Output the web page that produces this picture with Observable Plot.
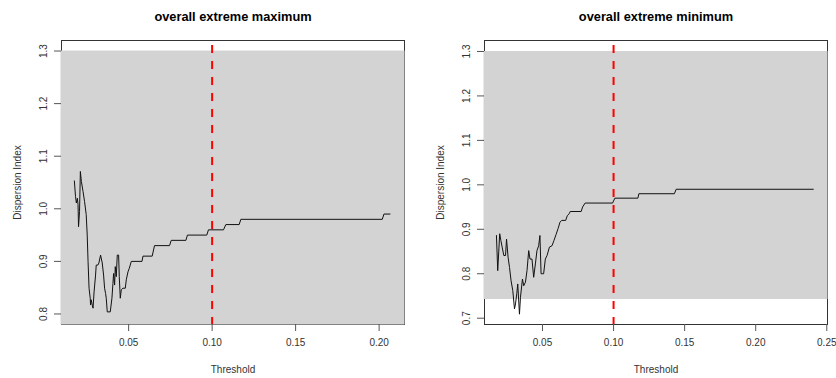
<!DOCTYPE html>
<html>
<head>
<meta charset="utf-8">
<script src="https://cdn.jsdelivr.net/npm/d3@7"></script>
<script src="https://cdn.jsdelivr.net/npm/@observablehq/plot@0.6"></script>
<style>
  html, body { margin: 0; padding: 0; background: white; }
  #wrap { display: flex; width: 836px; height: 378px; }
</style>
</head>
<body>
<div id="wrap"></div>
<script>
// ---- Data: panel 1, overall extreme maximum ----
const maxTitle = "overall extreme maximum";
const maxThreshold = [0.0175, 0.0182, 0.0187, 0.0193, 0.0197, 0.0200, 0.0206, 0.0211, 0.0217, 0.0227,
  0.0236, 0.0246, 0.0252, 0.0257, 0.0263, 0.0270, 0.0272, 0.0276, 0.0282, 0.0287,
  0.0293, 0.0302, 0.0306, 0.0316, 0.0322, 0.0332, 0.0342, 0.0350, 0.0356, 0.0362,
  0.0366, 0.0372, 0.0390, 0.0400, 0.0406, 0.0410, 0.0416, 0.0420, 0.0426, 0.0432,
  0.0440, 0.0444, 0.0450, 0.0456, 0.0466, 0.0480, 0.0486, 0.0496, 0.0504, 0.0516,
  0.0580, 0.0586, 0.0641, 0.0655, 0.0745, 0.0755, 0.0843, 0.0852, 0.0968, 0.0978,
  0.1068, 0.1082, 0.1162, 0.1172, 0.2019, 0.2029, 0.2065];
const maxDispersion = [1.053, 1.023, 1.011, 1.020, 1.008, 0.966, 0.995, 1.071, 1.052, 1.033,
  1.014, 0.989, 0.950, 0.900, 0.849, 0.830, 0.817, 0.827, 0.817, 0.811,
  0.842, 0.874, 0.893, 0.893, 0.897, 0.912, 0.897, 0.874, 0.849, 0.839,
  0.830, 0.804, 0.804, 0.830, 0.858, 0.877, 0.855, 0.890, 0.871, 0.912,
  0.912, 0.871, 0.830, 0.846, 0.849, 0.849, 0.865, 0.880, 0.887, 0.900,
  0.900, 0.910, 0.910, 0.930, 0.930, 0.940, 0.940, 0.950, 0.950, 0.960,
  0.960, 0.970, 0.970, 0.980, 0.980, 0.990, 0.990];
const maxBandLower = [0.75];
const maxBandUpper = [1.30];
const maxXTicks = [0.05, 0.10, 0.15, 0.20];
const maxYTicks = [0.8, 0.9, 1.0, 1.1, 1.2, 1.3];
const maxXDomain = [0.0098, 0.2152];
const maxYDomain = [0.78, 1.32];

// ---- Data: panel 2, overall extreme minimum ----
const minTitle = "overall extreme minimum";
const minThreshold = [0.0176, 0.0185, 0.0199, 0.0207, 0.0216, 0.0228, 0.0240, 0.0247, 0.0258, 0.0268,
  0.0279, 0.0291, 0.0303, 0.0310, 0.0319, 0.0326, 0.0338, 0.0345, 0.0359, 0.0368,
  0.0380, 0.0391, 0.0403, 0.0412, 0.0426, 0.0438, 0.0450, 0.0461, 0.0473, 0.0482,
  0.0490, 0.0508, 0.0520, 0.0532, 0.0549, 0.0567, 0.0581, 0.0595, 0.0610, 0.0623,
  0.0635, 0.0663, 0.0675, 0.0688, 0.0695, 0.0772, 0.0782, 0.0800, 0.0993, 0.1009,
  0.1171, 0.1178, 0.1428, 0.1440, 0.2405];
const minDispersion = [0.886, 0.807, 0.890, 0.875, 0.860, 0.841, 0.841, 0.878, 0.837, 0.814,
  0.784, 0.762, 0.721, 0.732, 0.755, 0.777, 0.709, 0.747, 0.788, 0.773,
  0.781, 0.807, 0.852, 0.833, 0.833, 0.792, 0.822, 0.852, 0.863, 0.886,
  0.800, 0.800, 0.833, 0.841, 0.860, 0.863, 0.875, 0.888, 0.902, 0.916,
  0.920, 0.920, 0.931, 0.935, 0.940, 0.940, 0.950, 0.959, 0.959, 0.970,
  0.970, 0.980, 0.980, 0.990, 0.990];
const minBandLower = [0.742];
const minBandUpper = [1.30];
const minXTicks = [0.05, 0.10, 0.15, 0.20, 0.25];
const minYTicks = [0.7, 0.8, 0.9, 1.0, 1.1, 1.2, 1.3];
const minXDomain = [0.0092, 0.2505];
const minYDomain = [0.6858, 1.3247];

const chosenThreshold = [0.10];
const xLabel = "Threshold";
const yLabel = "Dispersion Index";

function panel(cfg) {
  const idx = d3.range(cfg.thr.length);
  const band = [{
    x1: cfg.xDomain[0], x2: cfg.xDomain[1],
    y1: Math.max(cfg.bandLower[0], cfg.yDomain[0]), y2: cfg.bandUpper[0],
    clipBottom: cfg.bandLower[0] <= cfg.yDomain[0]
  }];
  return Plot.plot({
    width: 418,
    height: 378,
    marginLeft: cfg.ml,
    marginRight: cfg.mr,
    marginTop: 40,
    marginBottom: 54,
    style: {fontFamily: "'Liberation Sans', Arial, sans-serif", fontSize: "10px", background: "white", overflow: "visible"},
    x: {domain: cfg.xDomain},
    y: {domain: cfg.yDomain},
    marks: [
      Plot.frame({stroke: "#333", strokeWidth: 1}),
      Plot.rect(band, {x1: "x1", x2: "x2", y1: "y1", y2: "y2", fill: "#d3d3d3",
        insetLeft: -0.5, insetRight: -0.5, insetBottom: band[0].clipBottom ? -0.5 : 0}),
      Plot.axisX({ticks: cfg.xTicks, tickSize: 7, tickPadding: 7, tickFormat: d3.format(".2f"),
        label: null, stroke: "#555", fill: "#333", fontSize: 10}),
      Plot.axisY({ticks: cfg.yTicks, tickSize: 7, tickFormat: () => "", label: null, stroke: "#555"}),
      Plot.text(cfg.yTicks, {y: d => d, frameAnchor: "left", dx: -18, rotate: -90,
        text: d => d3.format(".1f")(d), textAnchor: "middle", lineAnchor: "middle", fill: "#333", fontSize: 10}),
      Plot.line(idx, {x: i => cfg.thr[i], y: i => cfg.disp[i], stroke: "#111", strokeWidth: 1}),
      Plot.ruleX(chosenThreshold, {x: d => d, stroke: "#ff0000", strokeWidth: 2,
        strokeDasharray: "8,8", strokeDashoffset: 11}),
      Plot.text([cfg.title], {frameAnchor: "top", dy: -23.4, text: d => d, fontWeight: "bold",
        fontSize: 12.8, fill: "#000", lineAnchor: "middle"}),
      Plot.text([xLabel], {frameAnchor: "bottom", dy: 45.5, text: d => d, fontSize: 10,
        fill: "#333", lineAnchor: "middle"}),
      Plot.text([yLabel], {frameAnchor: "left", dx: -44, rotate: -90, text: d => d, fontSize: 10,
        fill: "#333", lineAnchor: "middle", textAnchor: "middle"})
    ]
  });
}

const wrap = document.getElementById("wrap");
wrap.append(panel({title: maxTitle, thr: maxThreshold, disp: maxDispersion,
  bandLower: maxBandLower, bandUpper: maxBandUpper, xTicks: maxXTicks, yTicks: maxYTicks,
  xDomain: maxXDomain, yDomain: maxYDomain, ml: 61, mr: 14}));
wrap.append(panel({title: minTitle, thr: minThreshold, disp: minDispersion,
  bandLower: minBandLower, bandUpper: minBandUpper, xTicks: minXTicks, yTicks: minYTicks,
  xDomain: minXDomain, yDomain: minYDomain, ml: 66, mr: 9}));
</script>
</body>
</html>
